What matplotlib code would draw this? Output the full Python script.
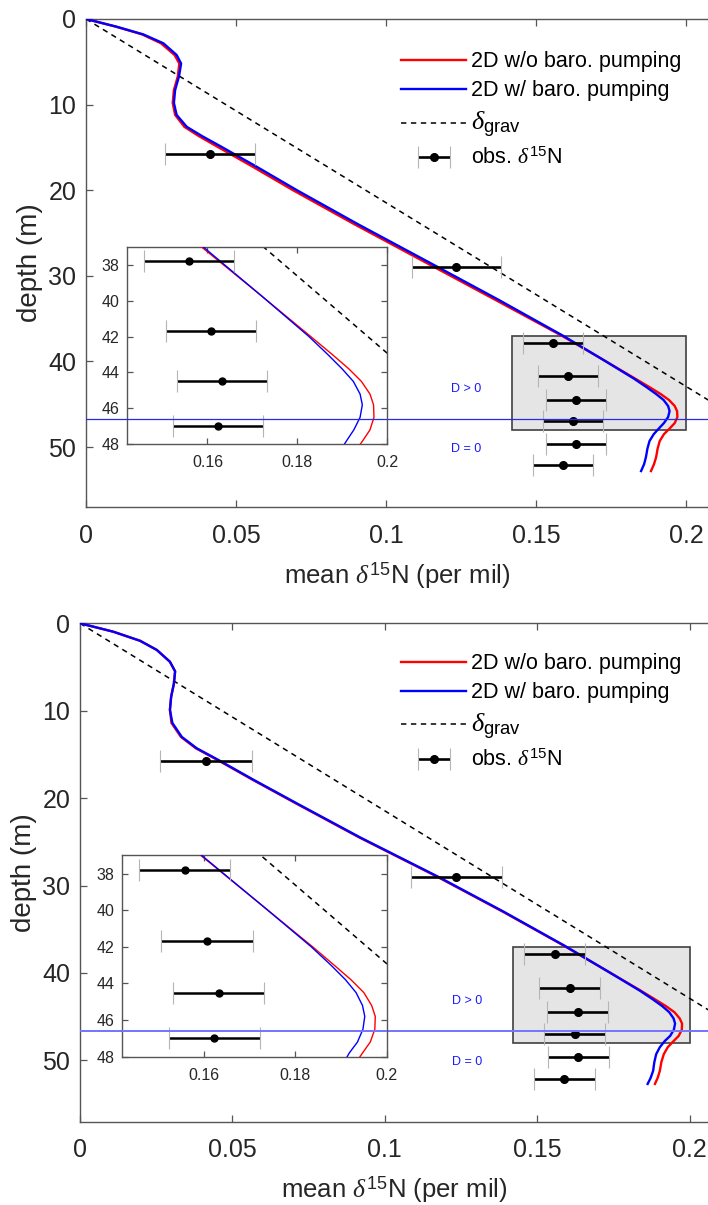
import numpy as np
import matplotlib
matplotlib.use("Agg")
import matplotlib.pyplot as plt
from matplotlib.patches import Rectangle
from matplotlib.ticker import FormatStrFormatter
from matplotlib.legend_handler import HandlerErrorbar

plt.rcParams['font.family'] = ['Liberation Sans', 'DejaVu Sans']
plt.rcParams['mathtext.fontset'] = 'custom'
plt.rcParams['mathtext.rm'] = 'Liberation Sans'
plt.rcParams['mathtext.it'] = 'Liberation Serif:italic'
plt.rcParams['mathtext.bf'] = 'Liberation Sans:bold'

# observed d15N in firn air (depth in m, value and half error in per mil)
obs_depth = [15.8, 29.0, 37.8, 41.7, 44.5, 47.0, 49.6, 52.1]
obs_d15n = [0.0413, 0.1234, 0.1558, 0.1607, 0.1632, 0.1623, 0.1634, 0.1589]
obs_err = [0.0151, 0.0149, 0.0100, 0.0100, 0.0100, 0.0100, 0.0100, 0.0100]

# gravitational enrichment line
grav_depth = [0, 60]
grav_d15n = [0, 0.2796]

# model runs, upper panel
top_depth = [0, 0.9, 1.8, 2.84, 4.2, 5.2, 6.7, 8.3, 9.8, 11.2, 12.6, 13.7, 14.9,
             17.2, 20.0, 24.0, 29.0, 32.8, 37.0, 39.75, 42.0, 43.0, 43.8, 44.5,
             45.2, 45.8, 46.5, 47.2, 47.8, 48.5, 49.3, 50.2, 51.2, 52.0, 52.8]
top_nobaro = [0, 0.0100, 0.0187, 0.0250, 0.0295, 0.0311, 0.0306, 0.0293, 0.0289,
              0.0297, 0.0328, 0.0377, 0.0437, 0.0553, 0.0690, 0.0896, 0.1162,
              0.1364, 0.1586, 0.1721, 0.1830, 0.1878, 0.1915, 0.1943, 0.1962,
              0.1970, 0.1971, 0.1962, 0.1946, 0.1926, 0.1912, 0.1905, 0.1900,
              0.1893, 0.1883]
top_baro = [0, 0.0102, 0.0191, 0.0258, 0.0302, 0.0317, 0.0310, 0.0297, 0.0293,
            0.0302, 0.0336, 0.0388, 0.0450, 0.0566, 0.0703, 0.0908, 0.1174,
            0.1375, 0.1590, 0.1721, 0.1826, 0.1868, 0.1900, 0.1925, 0.1940,
            0.1945, 0.1940, 0.1926, 0.1910, 0.1892, 0.1878, 0.1871, 0.1866,
            0.1860, 0.1850]

# model runs, lower panel
bot_depth = [0, 0.96, 2.0, 3.05, 4.4, 5.5, 6.9, 8.4, 9.9, 11.4, 13.0, 14.3, 15.6,
             17.9, 20.6, 24.5, 29.0, 33.0, 36.9, 39.9, 42.0, 43.0, 43.8, 44.5,
             45.2, 45.8, 46.5, 47.2, 47.8, 48.5, 49.3, 50.2, 51.2, 52.0, 52.7]
bot_nobaro = [0, 0.0109, 0.0197, 0.0252, 0.0295, 0.0312, 0.0308, 0.0299, 0.0295,
              0.0300, 0.0331, 0.0380, 0.0449, 0.0566, 0.0708, 0.0916, 0.1172,
              0.1387, 0.1588, 0.1735, 0.1838, 0.1885, 0.1922, 0.1950, 0.1967,
              0.1975, 0.1974, 0.1964, 0.1947, 0.1928, 0.1915, 0.1907, 0.1902,
              0.1895, 0.1886]
bot_baro = [0, 0.0109, 0.0197, 0.0252, 0.0295, 0.0312, 0.0308, 0.0299, 0.0295,
            0.0303, 0.0334, 0.0383, 0.0452, 0.0569, 0.0711, 0.0919, 0.1175,
            0.1390, 0.1590, 0.1735, 0.1835, 0.1878, 0.1910, 0.1933, 0.1947,
            0.1952, 0.1948, 0.1936, 0.1918, 0.1902, 0.1890, 0.1884, 0.1880,
            0.1872, 0.1862]

diff_depth = 46.7
box_x = [0.142, 0.2]
box_y = [37, 48]

AX_GRAY = '#555555'
TXT = '#262626'


def style_axes(ax, fs):
    for s in ax.spines.values():
        s.set_color(AX_GRAY)
        s.set_linewidth(1.0)
    ax.tick_params(direction='in', colors=AX_GRAY, labelcolor=TXT,
                   labelsize=fs, length=5, width=0.9)


def draw_obs(ax, ms, lw, cap, label=None):
    eb = ax.errorbar(obs_d15n, obs_depth, xerr=obs_err, fmt='o', color='k',
                     ms=ms, elinewidth=lw, capsize=cap, ecolor='k',
                     zorder=6, label=label)
    for c in eb[1]:
        c.set_markeredgecolor('#b5b5b5')
        c.set_markeredgewidth(0.8)
    return eb


def panel(fig, rect, inset_rect, xmax, dep, red, blue, line_col, line_w, leg_y):
    ax = fig.add_axes(rect)
    style_axes(ax, 18)
    ax.spines['right'].set_visible(False)
    ax.tick_params(top=True, right=False)
    ax.tick_params(axis='x', pad=12)
    ax.tick_params(axis='y', pad=7)

    ax.add_patch(Rectangle((box_x[0], box_y[0]), box_x[1] - box_x[0],
                           box_y[1] - box_y[0], facecolor='#e5e5e5',
                           edgecolor='#404040', lw=1.2, zorder=1))
    ax.plot(red, dep, color='#ff0000', lw=1.7, zorder=3,
            label='2D w/o baro. pumping')
    ax.plot(blue, dep, color='#0000ff', lw=1.7, zorder=4,
            label='2D w/ baro. pumping')
    ax.plot(grav_d15n, grav_depth, color='k', lw=1.1, ls=(0, (3.5, 3)),
            zorder=2, label=r'$\delta_{\mathrm{grav}}$')
    eb = draw_obs(ax, 5.5, 1.9, 8, label=r'obs. $\delta^{15}$N')
    ax.axhline(diff_depth, color=line_col, lw=line_w, zorder=7)

    ax.text(0.1318, 43.2, 'D > 0', color='#1a1aff', fontsize=9,
            ha='right', va='center')
    ax.text(0.1318, 50.2, 'D = 0', color='#1a1aff', fontsize=9,
            ha='right', va='center')

    ax.set_xlim(0, xmax)
    ax.set_ylim(57, 0)
    ax.set_xticks([0, 0.05, 0.1, 0.15, 0.2])
    ax.set_yticks([0, 10, 20, 30, 40, 50])
    ax.xaxis.set_major_formatter(FormatStrFormatter('%g'))
    ax.set_xlabel(r'mean $\delta^{15}$N (per mil)', fontsize=18.5, color=TXT,
                  labelpad=9)
    ax.set_ylabel('depth (m)', fontsize=20, color=TXT, labelpad=4)

    leg = ax.legend(loc='upper left', bbox_to_anchor=(0.567, leg_y),
                    bbox_transform=fig.transFigure, frameon=False,
                    fontsize=15.5, handlelength=3.0, handletextpad=0.25,
                    labelspacing=0.38, borderpad=0, borderaxespad=0,
                    handler_map={type(eb): HandlerErrorbar(xerr_size=0.75)})
    for t in leg.get_texts():
        t.set_color('k')
    leg.get_texts()[2].set_fontsize(19)

    # zoomed view of the lower firn
    ins = fig.add_axes(inset_rect)
    style_axes(ins, 11.5)
    ins.tick_params(top=True, right=True, length=4)
    ins.tick_params(axis='x', pad=8)
    ins.tick_params(axis='y', pad=5)
    ins.plot(red, dep, color='#ff0000', lw=1.0, zorder=3)
    ins.plot(blue, dep, color='#0000ff', lw=1.0, zorder=4)
    ins.plot(grav_d15n, grav_depth, color='k', lw=1.1, ls=(0, (3.5, 3)), zorder=2)
    draw_obs(ins, 5, 1.8, 8)
    ins.axhline(diff_depth - 0.1, color=line_col, lw=line_w, zorder=7)
    ins.set_xlim(box_x)
    ins.set_ylim(box_y[1], box_y[0])
    ins.set_xticks([0.16, 0.18, 0.2])
    ins.set_yticks([38, 40, 42, 44, 46, 48])
    ins.xaxis.set_major_formatter(FormatStrFormatter('%g'))
    return ax


fig = plt.figure(figsize=(7.08, 12.05), dpi=100)
W, H = 708.0, 1205.0

panel(fig, [86 / W, (H - 507) / H, 622 / W, 488 / H],
      [126.7 / W, (H - 444.3) / H, 260.3 / W, 197.6 / H],
      0.2073, top_depth, top_nobaro, top_baro, '#2a2ae6', 0.9, 0.9575)
panel(fig, [80 / W, (H - 1121.5) / H, 628 / W, 498.2 / H],
      [121.7 / W, (H - 1056.7) / H, 265 / W, 201.4 / H],
      0.206, bot_depth, bot_nobaro, bot_baro, '#7373ff', 1.4, 0.458)

fig.savefig('out.png', dpi=100)
